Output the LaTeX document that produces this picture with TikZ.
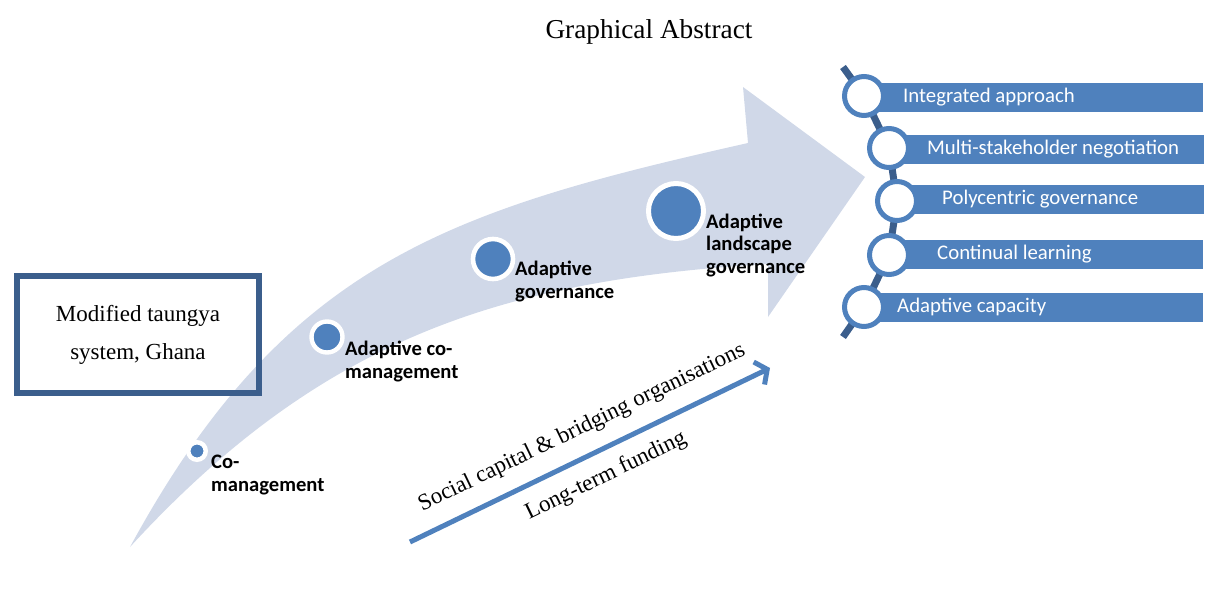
\documentclass[tikz,border=0pt]{standalone}
\usepackage{fontspec}
\setmainfont{Liberation Serif}
\newfontfamily\calibri{Carlito}
\usetikzlibrary{arrows.meta}
\definecolor{shaft}{RGB}{208,216,232}
\definecolor{accent}{RGB}{79,129,189}
\definecolor{darkb}{RGB}{59,94,140}
\begin{document}
\begin{tikzpicture}[x=1pt,y=-1pt,
  stage/.style={circle, fill=accent, draw=white, inner sep=0pt},
  lbl/.style={inner sep=0pt, align=left, font=\calibri\bfseries\fontsize{20.6}{22.5}\selectfont},
  ring/.style={circle, fill=white, draw=accent, line width=5pt, minimum size=39pt, inner sep=0pt},
  chainline/.style={draw=darkb, line width=7pt},
  bar/.style={fill=accent, minimum height=29pt, inner sep=0pt, anchor=west},
  bartext/.style={text=white, inner sep=0pt, anchor=west, font=\calibri\fontsize{20.8}{24}\selectfont},
  serif/.style={inner sep=0pt, font=\fontsize{23}{27}\selectfont}
]
\useasboundingbox (0,0) rectangle (1218,589);

% title
\node[inner sep=0pt, anchor=base, font=\fontsize{27.3}{31}\selectfont] (title) at (649,38) {Graphical Abstract};

% big curved arrow
\fill[shaft] (130,547) .. controls (285,262) and (450,210) .. (748,143)
  -- (743,87) -- (865,177) -- (768,317) -- (768,264)
  .. controls (500,280) and (320,340) .. (130,547) -- cycle;

% left box
\node[draw=darkb, line width=5.5pt, minimum width=242pt, minimum height=117pt, inner sep=0pt,
  align=center, font=\fontsize{23}{38}\selectfont] (box) at (138,334.5) {Modified taungya\\system, Ghana};

% stages
\node[stage, line width=4.5pt, minimum size=17.5pt] (s1) at (197,451) {};
\node[stage, line width=4.4pt, minimum size=31pt] (s2) at (327,337) {};
\node[stage, line width=4.6pt, minimum size=40pt] (s3) at (493,259) {};
\node[stage, line width=5pt, minimum size=55pt] (s4) at (676,211) {};

\node[lbl, anchor=base west] (l1) at (211,491) {Co-\\management};
\node[lbl, anchor=base west] (l2) at (345,378) {Adaptive co-\\management};
\node[lbl, anchor=base west] (l3) at (515,298) {Adaptive\\governance};
\node[lbl, anchor=base west] (l4) at (706,273) {Adaptive\\landscape\\governance};

% diagonal arrow
\coordinate (fa) at (410,542);
\coordinate (fb) at (770,368);
\draw[accent, line width=5pt, -{Straight Barb[length=9pt,width=25pt]}] (fa) -- (fb);
\node[serif, rotate=25.8] (soc) at (582,428) {Social capital \& bridging organisations};
\node[serif, rotate=25.8] (fund) at (606,476) {Long-term funding};

% right list
\coordinate (ctop) at (843,67);
\coordinate (p1) at (864,96);
\coordinate (p2) at (889,148);
\coordinate (p3) at (897,201);
\coordinate (p4) at (889,255);
\coordinate (p5) at (864,307);
\coordinate (cbot) at (843,337);
\draw[chainline] (ctop) -- (p1) -- (p2) -- (p3) -- (p4) -- (p5) -- (cbot);

\node[bar, minimum width=339pt] (b1) at (864,97.5) {};
\node[bar, minimum width=315pt] (b2) at (889,149) {};
\node[bar, minimum width=307pt] (b3) at (897,199.5) {};
\node[bar, minimum width=314pt] (b4) at (889,254.5) {};
\node[bar, minimum width=339pt] (b5) at (864,307) {};

\node[ring] (r1) at (p1) {};
\node[ring] (r2) at (p2) {};
\node[ring] (r3) at (p3) {};
\node[ring] (r4) at (p4) {};
\node[ring] (r5) at (p5) {};

\node[bartext] (t1) at (903,97.5) {Integrated approach};
\node[bartext] (t2) at (927,149) {Multi-stakeholder negotiation};
\node[bartext] (t3) at (942,199.5) {Polycentric governance};
\node[bartext] (t4) at (937,254.5) {Continual learning};
\node[bartext] (t5) at (897,307) {Adaptive capacity};
\end{tikzpicture}
\end{document}
